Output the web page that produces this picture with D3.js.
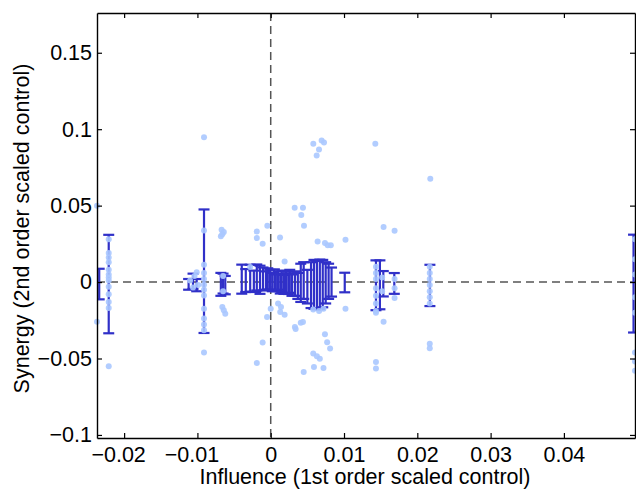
<!DOCTYPE html>
<html>
<head>
<meta charset="utf-8">
<script src="https://cdn.jsdelivr.net/npm/d3@7"></script>
<style>
  html, body { margin: 0; padding: 0; background: #fff; }
  svg { display: block; }
  text { font-family: "Liberation Sans", Arial, sans-serif; fill: #000; }
</style>
</head>
<body>
<script>
// ---------------- data ----------------
const xDomain = [-0.0237, 0.0497];
const yDomain = [-0.102, 0.176];
const xTickValues = [-0.02, -0.01, 0, 0.01, 0.02, 0.03, 0.04];
const xTickLabels = ["\u22120.02", "\u22120.01", "0", "0.01", "0.02", "0.03", "0.04"];
const yTickValues = [-0.1, -0.05, 0, 0.05, 0.1, 0.15];
const yTickLabels = ["\u22120.1", "\u22120.05", "0", "0.05", "0.1", "0.15"];
const xLabel = "Influence (1st order scaled control)";
const yLabel = "Synergy (2nd order scaled control)";

// error bars: position, mean, half-width
const barX = [
  -0.0234, -0.0221, -0.0112, -0.0106, -0.0101, -0.0091, -0.0068, -0.0065, -0.0062,
  -0.00395, -0.0034, -0.0028, -0.0023, -0.0019, -0.00146, -0.00105, -0.00064, -0.0004, -0.0001,
  0.0002, 0.0005, 0.0007, 0.0010, 0.0013, 0.0015, 0.0018, 0.0021, 0.0024, 0.0026, 0.0029,
  0.0033, 0.0037, 0.0041, 0.0045, 0.0050, 0.0055, 0.0059, 0.0063, 0.0067, 0.0071, 0.0075,
  0.0079, 0.0083, 0.0101,
  0.01436, 0.0149, 0.01536, 0.01686, 0.02172, 0.0495
];
const barMean = [
  -0.0013, -0.0013, -0.0015, 0.0005, -0.0020, 0.0071, -0.0015, -0.0010, -0.0020,
  0.0019, 0.0010, 0.0025, 0.0005, 0.0030, 0.0015, 0.0020, 0.0010, 0.0020, 0.0015,
  0.0000, 0.0015, -0.0005, 0.0010, -0.0010, 0.0005, -0.0015, 0.0000, -0.0010, 0.0005, -0.0020,
  -0.0010, -0.0025, -0.0005, 0.0010, -0.0030, -0.0020, -0.0015, -0.0020, -0.0015, -0.0010, -0.0005,
  0.0005, 0.0000, -0.0003,
  -0.0021, -0.0018, -0.0011, -0.0009, -0.0022, -0.0010
];
const barErr = [
  0.0100, 0.0322, 0.0035, 0.0050, 0.0040, 0.0404, 0.0075, 0.0065, 0.0060,
  0.0095, 0.0075, 0.0088, 0.0070, 0.0085, 0.0092, 0.0075, 0.0060, 0.0070, 0.0065,
  0.0060, 0.0068, 0.0055, 0.0060, 0.0065, 0.0070, 0.0062, 0.0072, 0.0068, 0.0075, 0.0070,
  0.0080, 0.0085, 0.0125, 0.0120, 0.0110, 0.0150, 0.0160, 0.0158, 0.0162, 0.0155, 0.0135,
  0.0115, 0.0095, 0.0064,
  0.0163, 0.0160, 0.0083, 0.0068, 0.0135, 0.0320
];

// individual observations
const pointX = [
  -0.0237, -0.0237,
  -0.0221, -0.0221, -0.0221, -0.0221, -0.0221, -0.0221, -0.0221, -0.0221, -0.0221, -0.0221, -0.0221, -0.0221, -0.0221,
  -0.0091, -0.0091, -0.0091, -0.0091, -0.0091, -0.0091, -0.0091, -0.0091, -0.0091, -0.0091, -0.0091, -0.0091, -0.0091,
  -0.0101, -0.0110, -0.0106, -0.0099, -0.0104,
  -0.0067, -0.0064, -0.0068, -0.0066, -0.0066, -0.0062, -0.0064, -0.0065, -0.0065,
  -0.0019, -0.0019, -0.0011, -0.00046, 0.00127, 0.0019, -0.0028,
  0.00327, 0.0044, 0.00417, 0.00454,
  0.00581, 0.00695, 0.00727, 0.00659, 0.00627,
  0.0064, 0.0074, 0.00777, 0.0082, 0.0102,
  0.0000, -0.0005, 0.0010, 0.0014, 0.0013, 0.0019,
  0.0033, 0.0034, 0.0041, 0.0044,
  -0.0011, -0.0019,
  0.0074, 0.0077, 0.0081,
  0.0058, 0.0063, 0.0067,
  0.0059, 0.0072, 0.0045,
  0.0102,
  0.0058, 0.0066, 0.0072,
  0.01427, 0.01436, 0.01436, 0.01436, 0.01436, 0.01436, 0.01436, 0.01436, 0.01436, 0.01436, 0.01436,
  0.0154, 0.0154, 0.0152, 0.0152,
  0.0169, 0.0169, 0.0169, 0.0169,
  0.02177, 0.0217, 0.0217, 0.0217, 0.0217, 0.0217, 0.0217, 0.0217, 0.0217, 0.0217,
  0.0497, 0.0497, 0.0497, 0.0497, 0.0497, 0.0497, 0.0497, 0.0497
];
const pointY = [
  0.050, -0.026,
  0.028, 0.019, 0.016, 0.013, 0.008, 0.005, 0.003, 0.001, -0.003, -0.008, -0.013, -0.017, -0.055,
  0.0948, 0.0338, 0.0114, 0.0059, 0.002, -0.0017, -0.005, -0.0088, -0.0174, -0.0239, -0.0278, -0.0316, -0.0461,
  0.0065, 0.0010, -0.0035, -0.0020, 0.0040,
  0.0342, 0.0327, 0.0299, 0.0312, -0.0163, -0.0207, -0.0185, 0.004, -0.006,
  0.0331, 0.0288, 0.0251, 0.0369, 0.0292, 0.0135, 0.0098,
  0.0486, 0.0486, 0.0438, 0.0369,
  0.0905, 0.0926, 0.0913, 0.0867, 0.0828,
  0.0266, 0.0255, 0.0240, 0.0240, 0.0277,
  -0.0174, -0.0229, -0.0141, -0.0163, -0.0196, -0.0213,
  -0.0294, -0.0307, -0.0266, -0.0261,
  -0.0396, -0.0529,
  -0.0342, -0.0394, -0.0435,
  -0.0468, -0.0486, -0.0501,
  -0.0556, -0.0562, -0.0588,
  -0.0174,
  -0.018, -0.019, -0.0175,
  0.0904, -0.0523, -0.0566, 0.010, 0.006, 0.002, -0.004, -0.009, -0.014, -0.019, -0.020,
  0.036, -0.026, 0.003, -0.006,
  0.0336, -0.0105, -0.004, 0.002,
  0.0676, -0.0403, -0.0433, 0.010, 0.006, 0.002, -0.002, -0.006, -0.010, -0.014,
  0.028, 0.015, 0.005, -0.010, -0.020, -0.046, -0.052, -0.058
];

// ---------------- drawing ----------------
const W = 636, H = 489;
const plot = { left: 97, right: 635, top: 13, bottom: 438 };

const svg = d3.select("body").append("svg").attr("width", W).attr("height", H);

const x = d3.scaleLinear().domain(xDomain).range([plot.left, plot.right]);
const y = d3.scaleLinear().domain(yDomain).range([plot.bottom, plot.top]);

svg.append("clipPath").attr("id", "clip")
  .append("rect")
  .attr("x", plot.left).attr("y", plot.top)
  .attr("width", plot.right - plot.left).attr("height", plot.bottom - plot.top);

const g = svg.append("g").attr("clip-path", "url(#clip)");

// zero reference lines
g.append("line")
  .attr("x1", plot.left).attr("x2", plot.right)
  .attr("y1", y(0)).attr("y2", y(0))
  .attr("stroke", "#555").attr("stroke-width", 1.5).attr("stroke-dasharray", "8,5");
g.append("line")
  .attr("x1", x(0)).attr("x2", x(0))
  .attr("y1", plot.top).attr("y2", plot.bottom)
  .attr("stroke", "#555").attr("stroke-width", 1.5).attr("stroke-dasharray", "8,5");

// error bars (clipped to the axes box)
const barColor = "#3030c8";
const capHalf = 5.5;
const bars = barX.map((v, i) => ({ x: v, m: barMean[i], e: barErr[i] }));
const bg = g.append("g").attr("stroke", barColor).attr("stroke-width", 2.2).attr("fill", "none");
bars.forEach(b => {
  const cx = x(b.x), y1 = y(b.m + b.e), y2 = y(b.m - b.e);
  bg.append("line").attr("x1", cx).attr("x2", cx).attr("y1", y1).attr("y2", y2);
  bg.append("line").attr("x1", cx - capHalf).attr("x2", cx + capHalf).attr("y1", y1).attr("y2", y1);
  bg.append("line").attr("x1", cx - capHalf).attr("x2", cx + capHalf).attr("y1", y2).attr("y2", y2);
});

// points (markers are not clipped, like MATLAB)
const pts = pointX.map((v, i) => ({ x: v, y: pointY[i] }));
svg.append("g").selectAll("circle").data(pts).join("circle")
  .attr("cx", d => x(d.x)).attr("cy", d => y(d.y)).attr("r", 3)
  .attr("fill", "#aac8ff").attr("fill-opacity", 0.9);

// axes (box with inward ticks)
const xAxisB = d3.axisBottom(x).tickValues(xTickValues).tickFormat((d, i) => xTickLabels[i]).tickSizeInner(-5).tickSizeOuter(0).tickPadding(9);
const xAxisT = d3.axisTop(x).tickValues(xTickValues).tickFormat("").tickSizeInner(-5).tickSizeOuter(0);
const yAxisL = d3.axisLeft(y).tickValues(yTickValues).tickFormat((d, i) => yTickLabels[i]).tickSizeInner(-5).tickSizeOuter(0).tickPadding(5);
const yAxisR = d3.axisRight(y).tickValues(yTickValues).tickFormat("").tickSizeInner(-5).tickSizeOuter(0);

function style(sel) {
  sel.attr("font-size", null).attr("font-family", null);
  sel.selectAll(".domain").attr("stroke", "#000").attr("stroke-width", 1.4);
  sel.selectAll(".tick line").attr("stroke", "#000").attr("stroke-width", 1.2);
  sel.selectAll(".tick text").style("font-size", "21.5px").style("font-family", "'Liberation Sans', Arial, sans-serif").attr("fill", "#000");
}

const xg = svg.append("g").attr("transform", `translate(0,${plot.bottom})`).call(xAxisB).call(style);
// negative labels sit slightly left of their ticks in the original
xg.selectAll(".tick text").attr("dx", d => d < 0 ? -6 : 0);
svg.append("g").attr("transform", `translate(0,${plot.top})`).call(xAxisT).call(style);
svg.append("g").attr("transform", `translate(${plot.left},0)`).call(yAxisL).call(style);
svg.append("g").attr("transform", `translate(${plot.right},0)`).call(yAxisR).call(style);

// axis labels
svg.append("text")
  .attr("x", (plot.left + plot.right) / 2 - 1).attr("y", 484)
  .attr("text-anchor", "middle").style("font-size", "21.5px")
  .text(xLabel);
svg.append("text")
  .attr("transform", `translate(29,${(plot.top + plot.bottom) / 2 + 3}) rotate(-90)`)
  .attr("text-anchor", "middle").style("font-size", "21.5px")
  .text(yLabel);
</script>
</body>
</html>
